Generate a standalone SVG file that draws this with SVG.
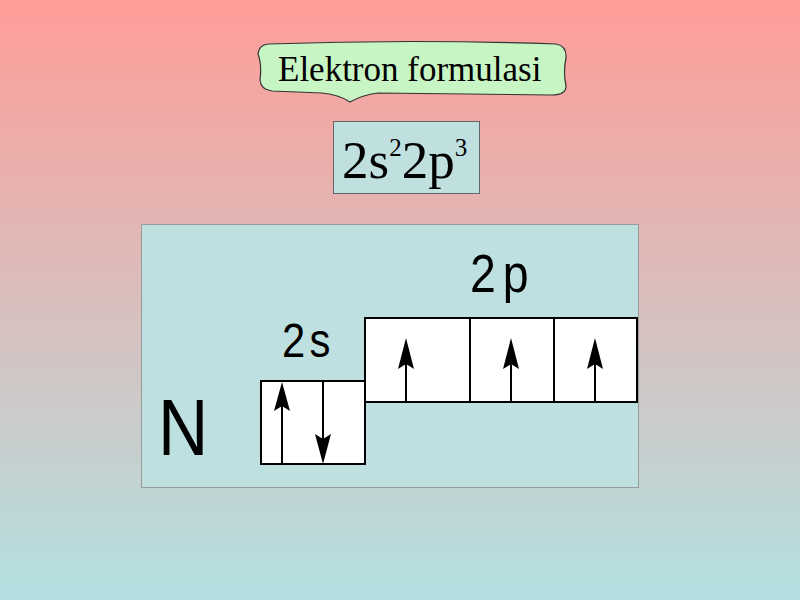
<svg xmlns="http://www.w3.org/2000/svg" width="800" height="600" viewBox="0 0 800 600">
<defs>
<linearGradient id="bg" x1="0" y1="0" x2="0" y2="1">
<stop offset="0" stop-color="#ff9d98"/>
<stop offset="1" stop-color="#b3e0e1"/>
</linearGradient>
</defs>
<style>
.box{fill:#ffffff;stroke:#000;stroke-width:2}
.arr{stroke:#000;stroke-width:2;fill:none}
.head{fill:#000}
.sans{font-family:"Liberation Sans",Arial,sans-serif;fill:#000}
.serif{font-family:"Liberation Serif","Times New Roman",serif;fill:#000}
</style>
<rect x="0" y="0" width="800" height="600" fill="url(#bg)"/>

<g id="callout">
<path d="M268,44 Q410,39 556,44 Q567,46 566,58 Q563,72 566,86 Q566,95 552,95 L378,93 Q362,95 350,102 Q340,95 322,93 L272,91 Q261,90 260,80 Q262,64 258,54 Q259,45 268,44 Z" fill="#c8f5c4" stroke="#333" stroke-width="1.2"/>
<text class="serif" x="278" y="81" font-size="35" fill="#0a1a0a">Elektron formulasi</text>
</g>

<g id="formula">
<rect x="333.5" y="121.5" width="146" height="72" fill="#c0e0e0" stroke="#666" stroke-width="1"/>
<text class="serif" x="342" y="178" font-size="53">2s<tspan font-size="25" dy="-22">2</tspan><tspan dy="22">2p</tspan><tspan font-size="25" dy="-22">3</tspan></text>
</g>

<g id="panel">
<rect x="141.5" y="224.5" width="497" height="263" fill="#bfe0e0" stroke="#9a9a9a" stroke-width="1"/>
<text class="sans" transform="translate(158,455) scale(0.87,1)" font-size="80">N</text>
</g>

<g id="orbital-2s">
<text class="sans" transform="translate(282,357) scale(0.87,1)" font-size="48" letter-spacing="5">2s</text>
<rect class="box" x="261" y="381" width="104" height="83"/>
</g>

<g id="orbital-2p">
<text class="sans" transform="translate(470,292) scale(0.86,1)" font-size="54" letter-spacing="8">2p</text>
<rect class="box" x="365" y="318" width="105" height="84"/>
<rect class="box" x="470" y="318" width="84" height="84"/>
<rect class="box" x="554" y="318" width="83" height="84"/>
</g>

<g id="electrons">
<line class="arr" x1="282" y1="464" x2="282" y2="400"/>
<polygon class="head" points="282,382 290,411 282,406 274,411"/>
<line class="arr" x1="323" y1="381" x2="323" y2="445"/>
<polygon class="head" points="323,464 331,434 323,439 315,434"/>
<line class="arr" x1="406" y1="402" x2="406" y2="355"/>
<polygon class="head" points="406,338 414,369 406,364 398,369"/>
<line class="arr" x1="511" y1="402" x2="511" y2="355"/>
<polygon class="head" points="511,338 519,369 511,364 503,369"/>
<line class="arr" x1="595" y1="402" x2="595" y2="355"/>
<polygon class="head" points="595,338 603,369 595,364 587,369"/>
</g>
</svg>
